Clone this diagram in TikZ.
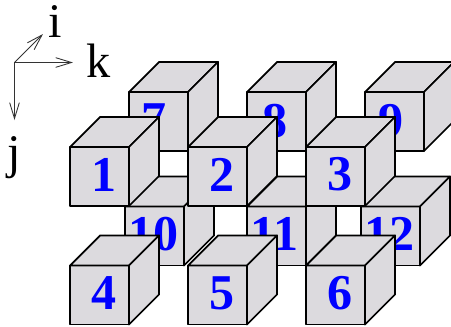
\documentclass[tikz,border=0pt]{standalone}
\usepackage{fontspec}
\setmainfont{Liberation Serif}
\usetikzlibrary{arrows.meta}
\definecolor{cubegray}{RGB}{220,218,222}
\tikzset{
  cubeface/.style={draw=black, fill=cubegray, line width=1pt, line join=round,
    minimum size=1.18cm, inner sep=0pt, outer sep=0pt},
  cubeside/.style={draw=black, fill=cubegray, line width=1pt, line join=round},
  cubeno/.style={text=blue, font=\fontsize{28.5}{28.5}\selectfont\bfseries, inner sep=0pt},
  axislabel/.style={font=\fontsize{27.5}{27.5}\selectfont, inner sep=0pt, anchor=base},
  axisarrow/.style={draw=black!80, line width=0.5pt,
    -{Straight Barb[length=9pt,width=5.5pt]}}
}
\begin{document}
\begin{tikzpicture}[x=0.02cm, y=-0.02cm]
  \useasboundingbox (0,0) rectangle (451,326);

  % Axes
  \coordinate (o) at (14.5,62.5);
  \coordinate (tipi) at (43,34);
  \coordinate (tipk) at (73,62.5);
  \coordinate (tipj) at (14.5,120);
  \draw[axisarrow] (o) -- (tipi);
  \draw[axisarrow] (o) -- (tipk);
  \draw[axisarrow] (o) -- (tipj);
  \node[axislabel] (labeli) at (55,37) {i};
  \node[axislabel] (labelk) at (99,77) {k};
  \node[axislabel] (labelj) at (14,168) {j};

  % Cubes, back to front: number / centre of front face / shift of the number
  \foreach \n/\x/\y/\dx/\dy in {
      7/158.5/121.5/-4/-1, 8/276.5/121.5/-1/0, 9/394.5/121.5/-3/0,
      10/154.5/236/-1/-2, 11/276.5/236/-2/-2, 12/390.5/236/-1/-2,
      1/99.5/176.5/4.5/-2, 2/217.5/176.5/4.5/-2, 3/335.5/176.5/4.5/-2,
      4/99.5/295/4.5/-2, 5/217.5/295/4.5/-2, 6/335.5/295/4.5/-2} {
    \node[cubeface] (f\n) at (\x,\y) {};
    \filldraw[cubeside] (f\n.north west) -- ++(30,-30) -- ++(59,0) -- ++(-30,30) -- cycle;
    \filldraw[cubeside] (f\n.north east) -- ++(30,-30) -- ++(0,59) -- ++(-30,30) -- cycle;
    \node[cubeno] (n\n) at (\x+\dx,\y+\dy) {\n};
  }
\end{tikzpicture}
\end{document}
